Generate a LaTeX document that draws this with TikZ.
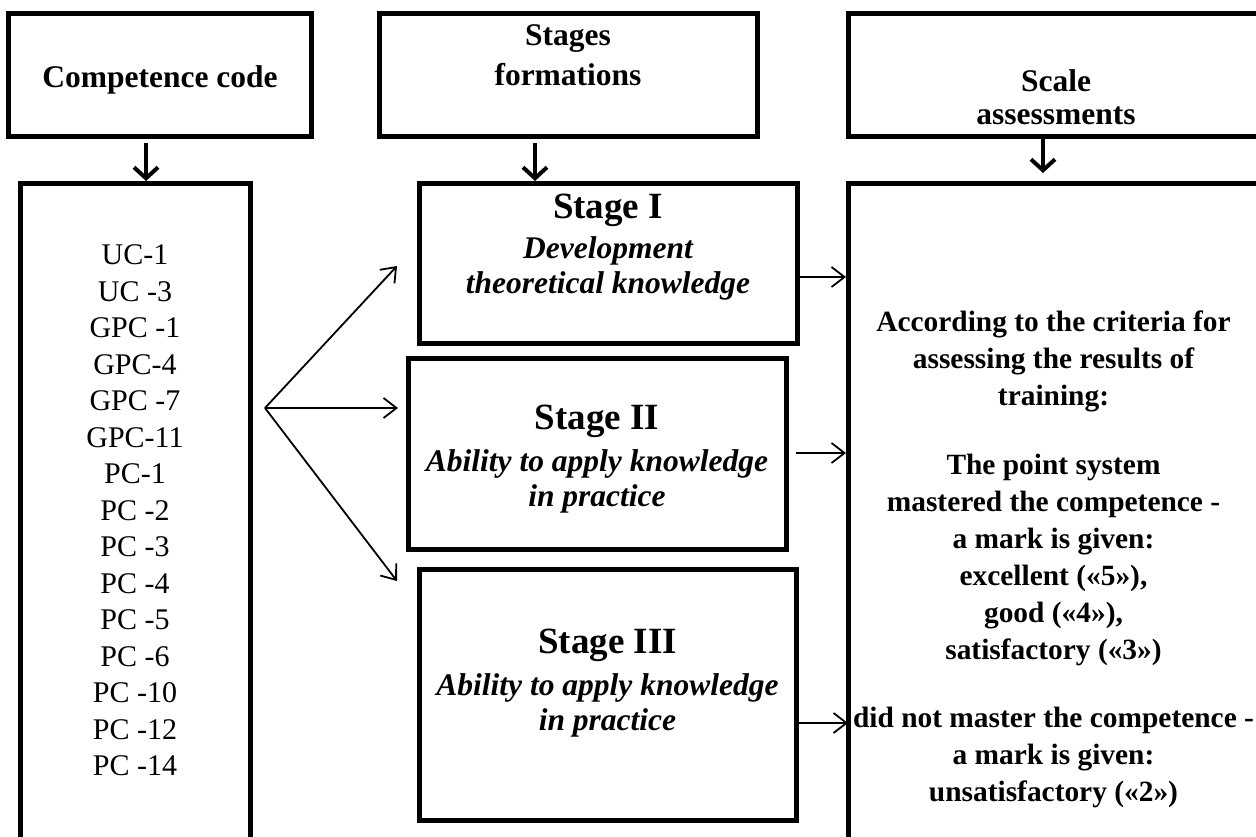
\documentclass[tikz,border=0pt]{standalone}
\usepackage{fontspec}
\setmainfont{Liberation Serif}
\usetikzlibrary{arrows.meta}
\begin{document}
\begin{tikzpicture}[x=1pt,y=-1pt,
  boxnode/.style={draw, line width=5pt, inner sep=0pt, outer sep=0pt},
  titletext/.style={font=\fontsize{31.5}{40}\selectfont\bfseries, align=center, inner sep=0pt},
  stagetext/.style={font=\fontsize{31.5}{35}\selectfont\bfseries\itshape, align=center, inner sep=0pt},
  listtext/.style={font=\fontsize{30}{36.5}\selectfont, align=center, inner sep=0pt},
  crittext/.style={font=\fontsize{29.4}{37}\selectfont\bfseries, align=center, inner sep=0pt},
  thickarrow/.style={line width=4pt, -{Straight Barb[length=11pt,width=24pt]}},
  thinarrow/.style={line width=1.8pt, -{Straight Barb[length=13pt,width=20pt]}}
]
\useasboundingbox (0,0) rectangle (1256,836);
\clip (0,0) rectangle (1256,836);

% header boxes
\node[boxnode, minimum width=303pt, minimum height=123pt] (b1) at (159.5,74.5) {};
\node[boxnode, minimum width=378pt, minimum height=123pt] (b2) at (568,74.5) {};
\node[boxnode, minimum width=452pt, minimum height=123pt] (b3) at (1074,74.5) {};
\node[titletext] (b1t) at (160,80) {Competence code};
\node[titletext] (b2t) at (568,55) {Stages\\formations};
\node[titletext, font=\fontsize{31.5}{33}\selectfont\bfseries] (b3t) at (1056,97) {Scale\\assessments};

% lower boxes
\node[boxnode, minimum width=230pt, minimum height=717pt] (codes) at (135,541.5) {};
\node[boxnode, minimum width=378pt, minimum height=160pt] (s1) at (608,263) {};
\node[boxnode, minimum width=378pt, minimum height=191pt] (s2) at (597,453.5) {};
\node[boxnode, minimum width=377pt, minimum height=251pt] (s3) at (607.5,694.5) {};
\node[boxnode, minimum width=452pt, minimum height=717pt] (crit) at (1074,541.5) {};

% texts
\node[listtext] (codest) at (135,510.5) {UC-1\\UC -3\\GPC -1\\GPC-4\\GPC -7\\GPC-11\\PC-1\\PC -2\\PC -3\\PC -4\\PC -5\\PC -6\\PC -10\\PC -12\\PC -14};
\node[stagetext] (s1t) at (608,247.5) {{\fontsize{37}{40}\selectfont\upshape Stage I}\\[5pt]Development\\theoretical knowledge};
\node[stagetext] (s2t) at (597,459) {{\fontsize{37}{40}\selectfont\upshape Stage II}\\[7pt]Ability to apply knowledge\\in practice};
\node[stagetext] (s3t) at (607.5,683.5) {{\fontsize{37}{40}\selectfont\upshape Stage III}\\[7pt]Ability to apply knowledge\\in practice};
\node[crittext] (critt) at (1053.5,559) {According to the criteria for\\assessing the results of\\training:\\[32pt]The point system\\mastered the competence -\\a mark is given:\\excellent («5»),\\good («4»),\\satisfactory («3»)\\[31pt]did not master the competence -\\a mark is given:\\unsatisfactory («2»)};

% arrow end points
\coordinate (a1s) at (146,143);
\coordinate (a1e) at (146,181);
\coordinate (a2s) at (535,143);
\coordinate (a2e) at (535,181);
\coordinate (a3s) at (1043,137);
\coordinate (a3e) at (1043,173);
\coordinate (fan) at (265,408);
\coordinate (f1) at (397,266);
\coordinate (f2) at (398,408);
\coordinate (f3) at (397,581);
\coordinate (r1s) at (797,277);
\coordinate (r1e) at (846,277);
\coordinate (r2s) at (796,453);
\coordinate (r2e) at (846,453);
\coordinate (r3s) at (799,723);
\coordinate (r3e) at (848,723);

\draw[thickarrow] (a1s) -- (a1e);
\draw[thickarrow] (a2s) -- (a2e);
\draw[thickarrow] (a3s) -- (a3e);
\draw[thinarrow] (fan) -- (f1);
\draw[thinarrow] (fan) -- (f2);
\draw[thinarrow] (fan) -- (f3);
\draw[thinarrow] (r1s) -- (r1e);
\draw[thinarrow] (r2s) -- (r2e);
\draw[thinarrow] (r3s) -- (r3e);
\end{tikzpicture}
\end{document}
